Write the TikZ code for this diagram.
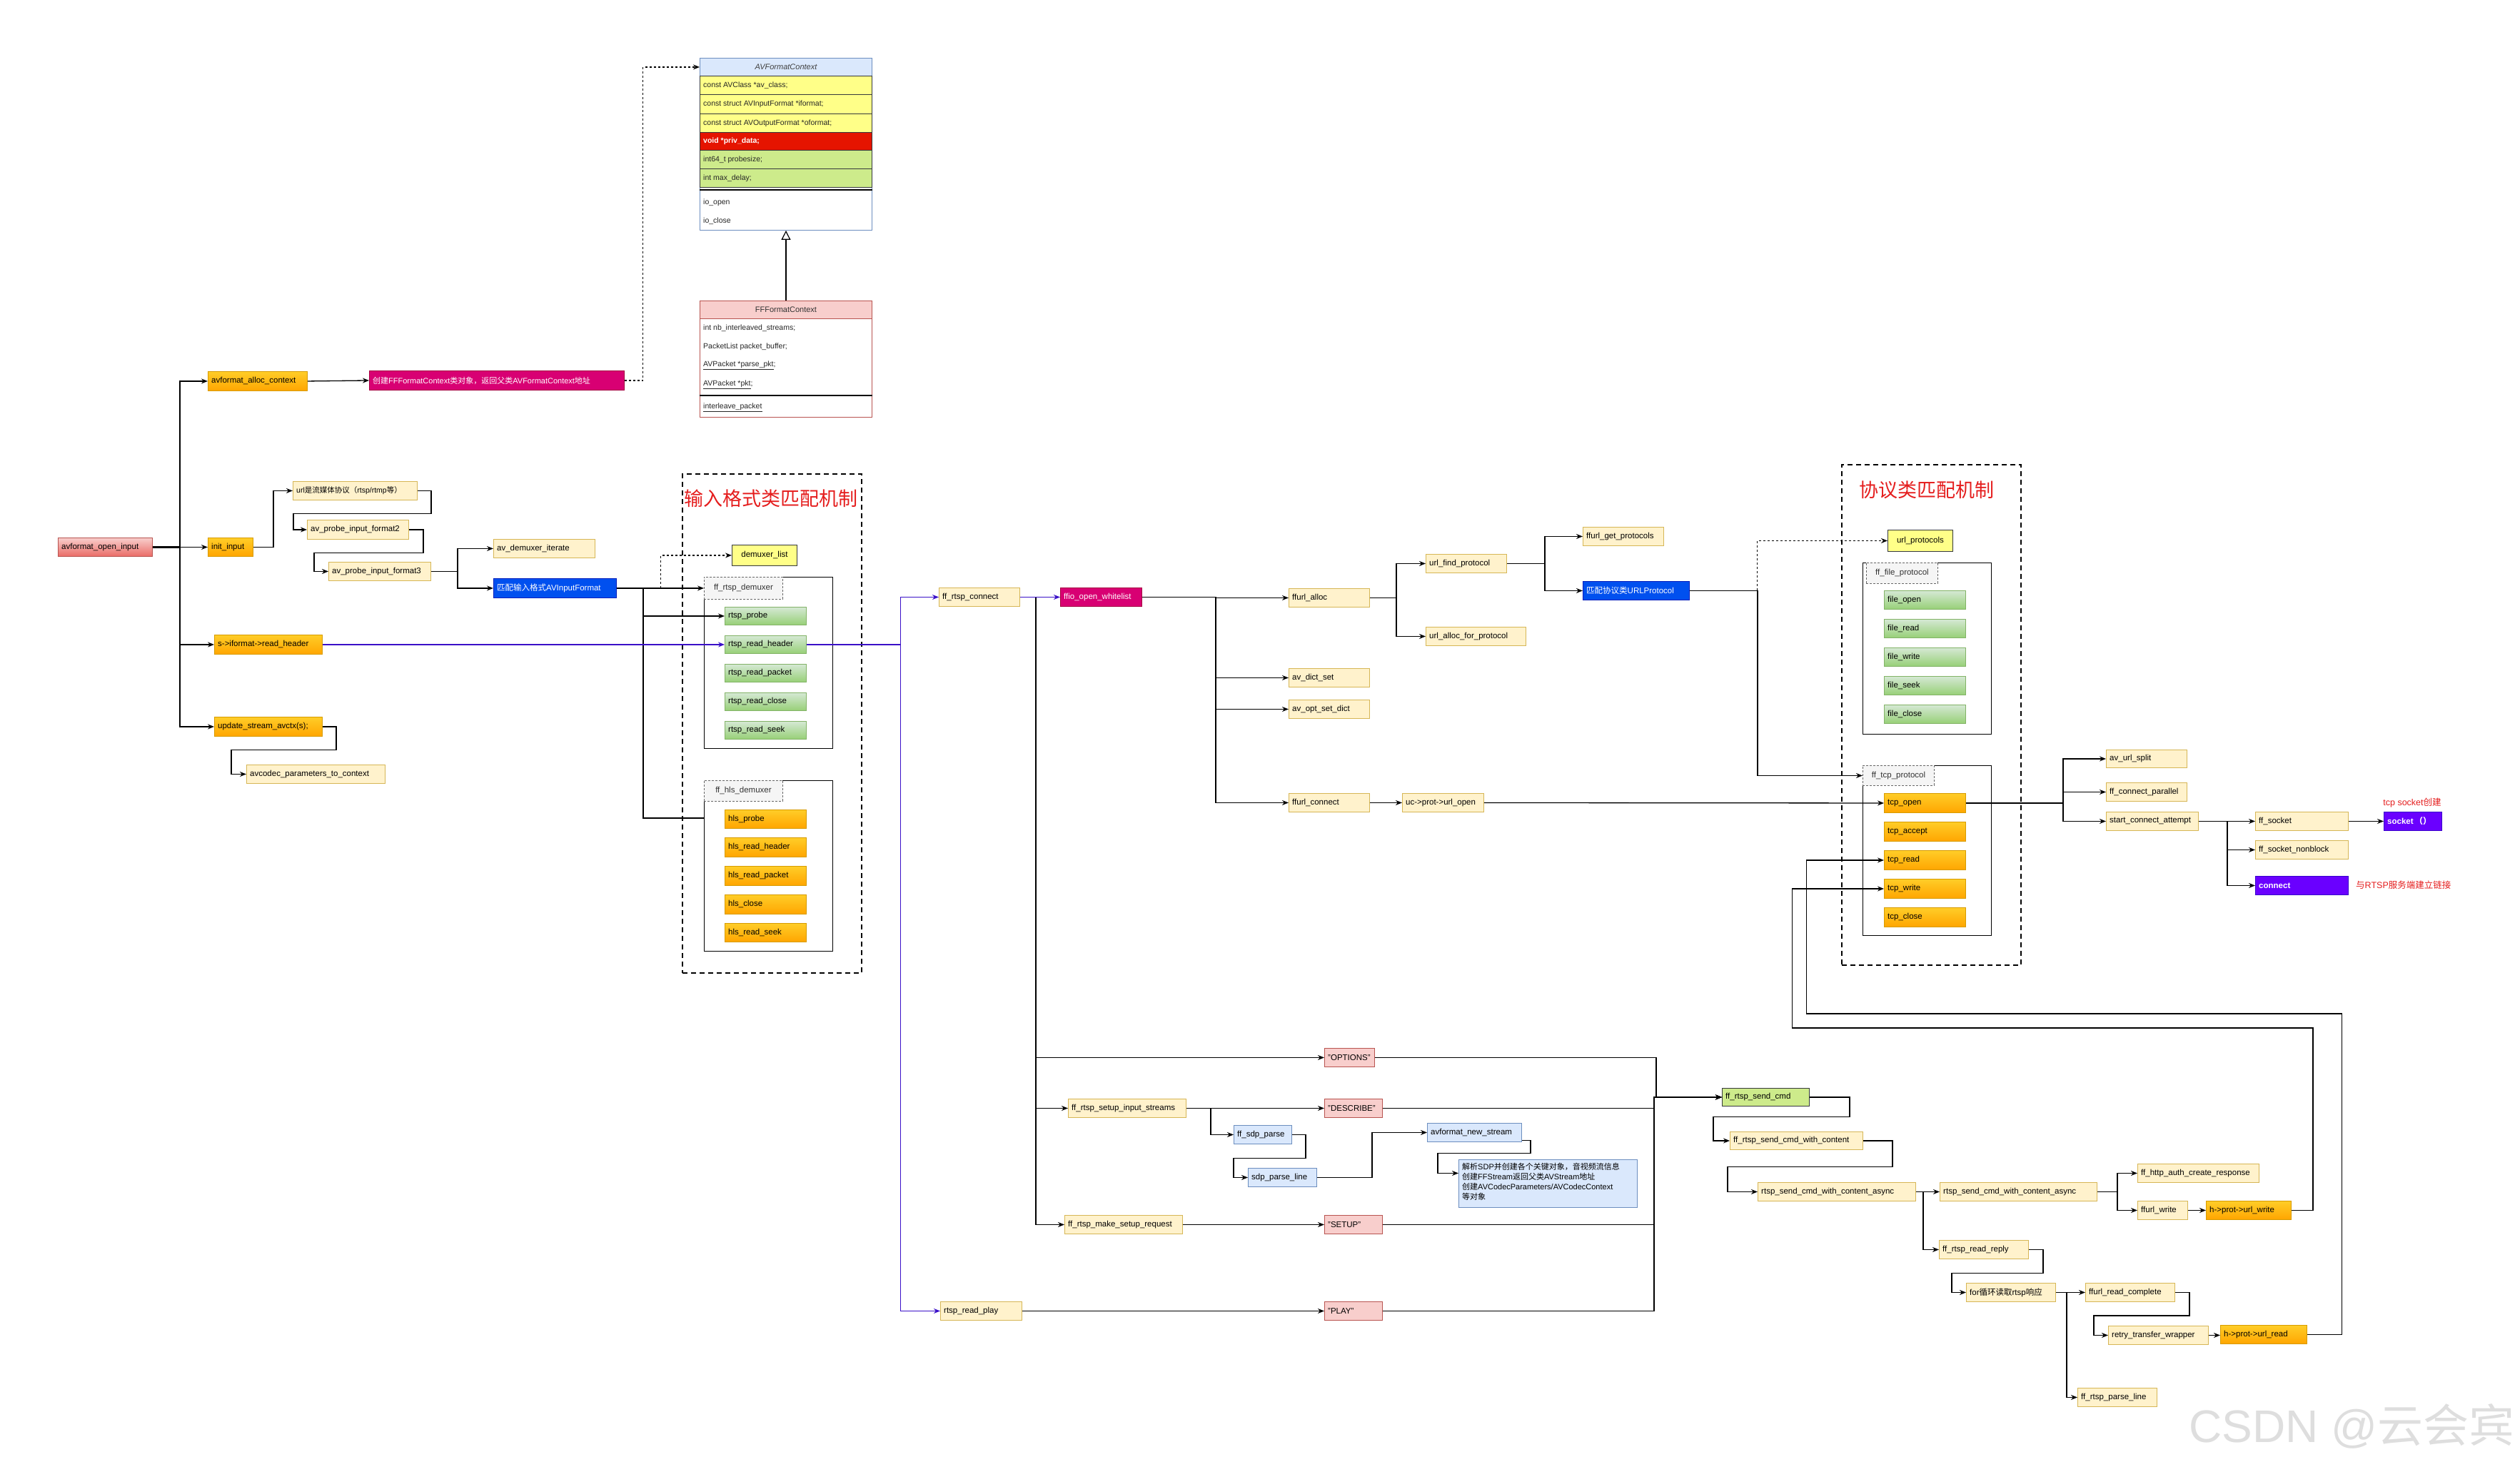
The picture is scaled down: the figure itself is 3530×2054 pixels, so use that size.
\documentclass[tikz,border=0pt]{standalone}
\usepackage{fontspec}
\setmainfont{Liberation Sans}
\newfontfamily\cjk{Noto Sans CJK SC}
\usetikzlibrary{arrows.meta,calc}
\definecolor{ylfill}{HTML}{FFF2CC}\definecolor{ylline}{HTML}{D6B656}
\definecolor{ortop}{HTML}{FFCD28}\definecolor{orbot}{HTML}{FFA500}\definecolor{orline}{HTML}{D79B00}
\definecolor{grtop}{HTML}{D5E8D4}\definecolor{grbot}{HTML}{97D077}\definecolor{grline}{HTML}{82B366}
\definecolor{rdtop}{HTML}{F8CECC}\definecolor{rdbot}{HTML}{EA6B66}\definecolor{rdline}{HTML}{B85450}
\definecolor{mgfill}{HTML}{D80073}\definecolor{mgline}{HTML}{A50040}
\definecolor{blfill}{HTML}{0050EF}\definecolor{blline}{HTML}{001DBC}
\definecolor{ppfill}{HTML}{6A00FF}\definecolor{ppline}{HTML}{3700CC}
\definecolor{lbfill}{HTML}{DAE8FC}\definecolor{lbline}{HTML}{6C8EBF}
\definecolor{pkfill}{HTML}{F8CECC}
\definecolor{lgfill}{HTML}{CDEB8B}\definecolor{dkline}{HTML}{36393D}
\definecolor{yyfill}{HTML}{FFFF88}
\definecolor{rowred}{HTML}{E51400}
\definecolor{gyfill}{HTML}{F5F5F5}\definecolor{gyline}{HTML}{666666}
\definecolor{ttlred}{HTML}{E51E1E}
\definecolor{purpleln}{HTML}{3A10C8}
\newcommand{\zh}[1]{{\cjk #1}}
\tikzset{
 bxbase/.style={rectangle, inner sep=0pt, line width=0.9pt},
 ylbox/.style={bxbase, fill=ylfill, draw=ylline},
 orbox/.style={bxbase, top color=ortop, bottom color=orbot, draw=orline},
 grbox/.style={bxbase, top color=grtop, bottom color=grbot, draw=grline},
 rdbox/.style={bxbase, top color=rdtop, bottom color=rdbot, draw=rdline},
 mgbox/.style={bxbase, fill=mgfill, draw=mgline},
 blbox/.style={bxbase, fill=blfill, draw=blline},
 ppbox/.style={bxbase, fill=ppfill, draw=ppline},
 lbbox/.style={bxbase, fill=lbfill, draw=lbline},
 pkbox/.style={bxbase, fill=pkfill, draw=rdline},
 lgbox/.style={bxbase, fill=lgfill, draw=dkline},
 yybox/.style={bxbase, fill=yyfill, draw=dkline},
 rrbox/.style={bxbase, fill=rowred, draw=dkline},
 gybox/.style={bxbase, fill=gyfill, draw=gyline, dash pattern=on 3pt off 2pt},
 contbox/.style={bxbase, draw=black, line width=1.2pt},
 groupbox/.style={bxbase, draw=black, line width=1.8pt, dash pattern=on 7pt off 5pt},
 txt/.style={inner sep=0pt, font=\fontsize{11.5}{13}\selectfont, text=black},
 wtxt/.style={txt, text=white},
 rowtxt/.style={inner sep=0pt, font=\fontsize{10.5}{12}\selectfont, text=black!85},
 ttl/.style={inner sep=0pt, font={\cjk\fontsize{27}{30}\selectfont}, text=ttlred},
 redlbl/.style={inner sep=0pt, font=\fontsize{12.5}{14}\selectfont, text=ttlred},
 conn/.style={draw=black, line width=1.3pt},
 arr/.style={conn, -{Stealth[length=9pt,width=7pt]}},
 parr/.style={draw=purpleln, line width=1.1pt, -{Stealth[length=9pt,width=7pt]}},
 darr/.style={draw=black, line width=1.1pt, dash pattern=on 3pt off 3pt, -{Stealth[length=9pt,width=7pt]}},
}
% #1 text style, #2 name, #3 box style, #4 x1, #5 y1, #6 x2, #7 y2, #8 text
\newcommand{\bx}[8][txt]{%
 \node[#3, anchor=north west, minimum width={#6-#4}, minimum height={#7-#5}] (#2) at (#4,#5) {};
 \node[#1, anchor=west] at ($(#2.west)+(5,0)$) {#8};}
\newcommand{\bxc}[8][txt]{%
 \node[#3, anchor=north west, minimum width={#6-#4}, minimum height={#7-#5}] (#2) at (#4,#5) {};
 \node[#1] at (#2.center) {#8};}
\newcommand{\zconn}[5]{\draw[arr] (#1.east) -- ++(#3,0) |- ($(#2.west)+(-#5,#4)$) |- (#2.west);}
\begin{document}
\begin{tikzpicture}[x=1pt,y=-1pt]
\useasboundingbox (0,0) rectangle (3530,2054);
\fill[white] (0,0) rectangle (3530,2054);

% ---------- AVFormatContext ----------
\node[bxbase, draw=lbline, fill=white, anchor=north west, minimum width=241, minimum height=241] (avfc) at (980,81) {};
\bxc[txt, text=black!75, font=\fontsize{11}{13}\selectfont\itshape]{avhead}{lbbox}{980}{81}{1221}{106}{AVFormatContext}
\bx[rowtxt]{rowa}{yybox}{980}{106}{1221}{132}{const AVClass *av\_class;}
\bx[rowtxt]{rowb}{yybox}{980}{132}{1221}{159}{const struct AVInputFormat *iformat;}
\bx[rowtxt]{rowc}{yybox}{980}{159}{1221}{185}{const struct AVOutputFormat *oformat;}
\bx[rowtxt, text=white, font=\fontsize{10.5}{12}\selectfont\bfseries]{rowd}{rrbox}{980}{185}{1221}{210}{void *priv\_data;}
\bx[rowtxt]{rowe}{lgbox}{980}{210}{1221}{236}{int64\_t probesize;}
\bx[rowtxt]{rowf}{lgbox}{980}{236}{1221}{262}{int max\_delay;}
\draw[line width=1.3pt, black] ($(avfc.north west)+(0,185)$) -- ($(avfc.north east)+(0,185)$);
\node[rowtxt, anchor=west] (ioopen) at (985,284) {io\_open};
\node[rowtxt, anchor=west] (ioclose) at (985,310) {io\_close};

% ---------- FFFormatContext ----------
\node[bxbase, draw=rdline, fill=white, anchor=north west, minimum width=241, minimum height=163] (ffc) at (980,421) {};
\bxc[txt, text=black!80, font=\fontsize{11}{13}\selectfont]{ffhead}{pkbox}{980}{421}{1221}{446}{FFFormatContext}
\node[rowtxt, anchor=west] (ffa) at (985,459.5) {int nb\_interleaved\_streams;};
\node[rowtxt, anchor=west] (ffb) at (985,486) {PacketList packet\_buffer;};
\node[rowtxt, anchor=west] (ffcc) at (985,512) {\underline{AVPacket *parse\_pkt};};
\node[rowtxt, anchor=west] (ffd) at (985,539) {\underline{AVPacket *pkt};};
\draw[line width=1.3pt, black] ($(ffc.north west)+(0,133)$) -- ($(ffc.north east)+(0,133)$);
\node[rowtxt, anchor=west] (ffe) at (985,571) {\underline{interleave\_packet}};
\draw[line width=1.2pt, -{Triangle[open,length=13pt,width=13pt]}] (ffhead.north) -- (avfc.south);

% ---------- left column ----------
\bx{openinput}{rdbox}{81}{753}{213}{779}{avformat\_open\_input}
\bx{alloc}{orbox}{291}{520}{430}{547}{avformat\_alloc\_context}
\bx[wtxt, font=\fontsize{11}{13}\selectfont]{pinkmsg}{mgbox}{517}{519}{874}{546}{\zh{创建}FFFormatContext\zh{类对象，返回父类}AVFormatContext\zh{地址}}
\bx{initinput}{orbox}{291}{753}{354}{779}{init\_input}
\bx[txt, font=\fontsize{10.5}{12}\selectfont]{urlbox}{ylbox}{410}{674}{584}{700}{url\zh{是流媒体协议（}rtsp/rtmp\zh{等）}}
\bx{probetwo}{ylbox}{430}{728}{572}{755}{av\_probe\_input\_format2}
\bx{probethree}{ylbox}{460}{787}{603}{813}{av\_probe\_input\_format3}
\bx{demiter}{ylbox}{691}{755}{833}{781}{av\_demuxer\_iterate}
\bx[wtxt]{matchfmt}{blbox}{691}{810}{863}{837}{\zh{匹配输入格式}AVInputFormat}
\bx{readheader}{orbox}{300}{889}{451}{916}{s->iformat->read\_header}
\bx{updatectx}{orbox}{300}{1004}{451}{1031}{update\_stream\_avctx(s);}
\bx{codecpar}{ylbox}{345}{1071}{539}{1097}{avcodec\_parameters\_to\_context}

% ---------- input format group ----------
\node[groupbox, anchor=north west, minimum width=251, minimum height=699] (ingroup) at (955,663) {};
\node[ttl] (inttl) at (1080,698) {输入格式类匹配机制};
\bxc[txt, font=\fontsize{11.5}{13}\selectfont]{demuxerlist}{yybox}{1025}{763}{1116}{792}{demuxer\_list}
\node[contbox, anchor=north west, minimum width=180, minimum height=240] (rtspcont) at (986,808) {};
\bxc[txt, text=black!80]{rtsplabel}{gybox}{986}{808}{1096}{839}{ff\_rtsp\_demuxer}
\bx{rprobe}{grbox}{1015}{850}{1129}{875}{rtsp\_probe}
\bx{rreadheader}{grbox}{1015}{890}{1129}{915}{rtsp\_read\_header}
\bx{rreadpacket}{grbox}{1015}{930}{1129}{955}{rtsp\_read\_packet}
\bx{rreadclose}{grbox}{1015}{970}{1129}{995}{rtsp\_read\_close}
\bx{rreadseek}{grbox}{1015}{1010}{1129}{1035}{rtsp\_read\_seek}
\node[contbox, anchor=north west, minimum width=180, minimum height=239] (hlscont) at (986,1093) {};
\bxc[txt, text=black!80]{hlslabel}{gybox}{986}{1093}{1096}{1122}{ff\_hls\_demuxer}
\bx{hprobe}{orbox}{1015}{1134}{1129}{1160}{hls\_probe}
\bx{hreadheader}{orbox}{1015}{1173}{1129}{1200}{hls\_read\_header}
\bx{hreadpacket}{orbox}{1015}{1213}{1129}{1240}{hls\_read\_packet}
\bx{hclose}{orbox}{1015}{1253}{1129}{1280}{hls\_close}
\bx{hreadseek}{orbox}{1015}{1293}{1129}{1319}{hls\_read\_seek}

% ---------- middle ----------
\bx{rtspconnect}{ylbox}{1315}{823}{1428}{849}{ff\_rtsp\_connect}
\bx[wtxt]{ffio}{mgbox}{1485}{823}{1599}{849}{ffio\_open\_whitelist}
\bx{ffurlalloc}{ylbox}{1805}{824}{1918}{850}{ffurl\_alloc}
\bx{dictset}{ylbox}{1805}{936}{1918}{962}{av\_dict\_set}
\bx{optset}{ylbox}{1805}{980}{1918}{1006}{av\_opt\_set\_dict}
\bx{ffurlconnect}{ylbox}{1805}{1111}{1918}{1137}{ffurl\_connect}
\bx{urlopen}{ylbox}{1964}{1111}{2078}{1137}{uc->prot->url\_open}
\bx{findproto}{ylbox}{1997}{776}{2110}{802}{url\_find\_protocol}
\bx{allocproto}{ylbox}{1997}{878}{2137}{904}{url\_alloc\_for\_protocol}
\bx{getprotos}{ylbox}{2217}{738}{2330}{764}{ffurl\_get\_protocols}
\bx[wtxt]{matchproto}{blbox}{2217}{814}{2366}{840}{\zh{匹配协议类}URLProtocol}

% ---------- protocol group ----------
\node[groupbox, anchor=north west, minimum width=251, minimum height=701] (protogroup) at (2579,650) {};
\node[ttl] (prttl) at (2699,686) {协议类匹配机制};
\bxc{urlprotocols}{yybox}{2644}{742}{2735}{772}{url\_protocols}
\node[contbox, anchor=north west, minimum width=180, minimum height=240] (filecont) at (2609,788) {};
\bxc[txt, text=black!80]{filelabel}{gybox}{2614}{788}{2714}{817}{ff\_file\_protocol}
\bx{fopen}{grbox}{2639}{827}{2753}{853}{file\_open}
\bx{fread}{grbox}{2639}{867}{2753}{893}{file\_read}
\bx{fwrite}{grbox}{2639}{907}{2753}{933}{file\_write}
\bx{fseek}{grbox}{2639}{947}{2753}{973}{file\_seek}
\bx{fclose}{grbox}{2639}{987}{2753}{1013}{file\_close}
\node[contbox, anchor=north west, minimum width=180, minimum height=238] (tcpcont) at (2609,1072) {};
\bxc[txt, text=black!80]{tcplabel}{gybox}{2609}{1072}{2709}{1100}{ff\_tcp\_protocol}
\bx{tcpopen}{orbox}{2639}{1111}{2753}{1138}{tcp\_open}
\bx{tcpaccept}{orbox}{2639}{1151}{2753}{1178}{tcp\_accept}
\bx{tcpread}{orbox}{2639}{1191}{2753}{1218}{tcp\_read}
\bx{tcpwrite}{orbox}{2639}{1231}{2753}{1258}{tcp\_write}
\bx{tcpclose}{orbox}{2639}{1271}{2753}{1298}{tcp\_close}

% ---------- right ----------
\bx{avurlsplit}{ylbox}{2950}{1050}{3063}{1075}{av\_url\_split}
\bx{connparallel}{ylbox}{2950}{1096}{3063}{1122}{ff\_connect\_parallel}
\bx{startconn}{ylbox}{2950}{1137}{3079}{1163}{start\_connect\_attempt}
\bx{ffsocket}{ylbox}{3159}{1137}{3289}{1163}{ff\_socket}
\bx{nonblock}{ylbox}{3159}{1177}{3289}{1203}{ff\_socket\_nonblock}
\bx[wtxt, font=\fontsize{11.5}{13}\selectfont\bfseries]{connectbox}{ppbox}{3159}{1227}{3289}{1253}{connect}
\bx[wtxt, font=\fontsize{11.5}{13}\selectfont\bfseries]{socketbox}{ppbox}{3339}{1137}{3420}{1163}{socket\,\zh{（）}}
\node[redlbl] (lblsock) at (3379,1125) {tcp socket\zh{创建}};
\node[redlbl, anchor=west] (lblconn) at (3300,1240) {\zh{与}RTSP\zh{服务端建立链接}};

% ---------- bottom ----------
\bx{options}{pkbox}{1855}{1468}{1925}{1494}{"OPTIONS"}
\bx{setupinput}{ylbox}{1496}{1539}{1661}{1565}{ff\_rtsp\_setup\_input\_streams}
\bx{describe}{pkbox}{1855}{1539}{1936}{1565}{"DESCRIBE"}
\bx{sdpparse}{lbbox}{1728}{1576}{1809}{1602}{ff\_sdp\_parse}
\bx{sdpline}{lbbox}{1748}{1636}{1844}{1662}{sdp\_parse\_line}
\bx{newstream}{lbbox}{1999}{1573}{2131}{1599}{avformat\_new\_stream}
\node[lbbox, anchor=north west, minimum width=250, minimum height=67] (note) at (2043,1624) {};
\node[txt, font=\fontsize{11}{14}\selectfont, anchor=north west, align=left] (notetxt) at ($(note.north west)+(5,5)$)
 {\zh{解析}SDP\zh{并创建各个关键对象，音视频流信息}\\\zh{创建}FFStream\zh{返回父类}AVStream\zh{地址}\\\zh{创建}AVCodecParameters/AVCodecContext\\\zh{等对象}};
\bx{setupreq}{ylbox}{1491}{1702}{1656}{1728}{ff\_rtsp\_make\_setup\_request}
\bx{setup}{pkbox}{1855}{1702}{1936}{1728}{"SETUP"}
\bx{readplay}{ylbox}{1317}{1823}{1431}{1849}{rtsp\_read\_play}
\bx{play}{pkbox}{1855}{1823}{1936}{1849}{"PLAY"}
\bx{sendcmd}{lgbox}{2412}{1524}{2534}{1549}{ff\_rtsp\_send\_cmd}
\bx{withcontent}{ylbox}{2423}{1585}{2609}{1610}{ff\_rtsp\_send\_cmd\_with\_content}
\bx{asyncone}{ylbox}{2462}{1656}{2683}{1682}{rtsp\_send\_cmd\_with\_content\_async}
\bx{asynctwo}{ylbox}{2717}{1656}{2937}{1682}{rtsp\_send\_cmd\_with\_content\_async}
\bx{httpauth}{ylbox}{2994}{1630}{3164}{1656}{ff\_http\_auth\_create\_response}
\bx{ffurlwrite}{ylbox}{2994}{1682}{3064}{1708}{ffurl\_write}
\bx{urlwrite}{orbox}{3090}{1682}{3209}{1708}{h->prot->url\_write}
\bx{readreply}{ylbox}{2716}{1737}{2841}{1763}{ff\_rtsp\_read\_reply}
\bx{forloop}{ylbox}{2754}{1797}{2879}{1823}{for\zh{循环读取}rtsp\zh{响应}}
\bx{readcomplete}{ylbox}{2921}{1797}{3046}{1823}{ffurl\_read\_complete}
\bx{retry}{ylbox}{2953}{1857}{3093}{1883}{retry\_transfer\_wrapper}
\bx{urlread}{orbox}{3110}{1856}{3231}{1882}{h->prot->url\_read}
\bx{parseline}{ylbox}{2910}{1944}{3021}{1970}{ff\_rtsp\_parse\_line}

\node[inner sep=0pt, anchor=west, text=black!13, font=\fontsize{64}{70}\selectfont] (wm) at (3066,1998) {CSDN @\zh{云会宾}};

% ---------- connectors: left ----------
\draw[conn, line width=2.6pt] (openinput.east) -- ++(38,0);
\draw[arr] (openinput.east) -- ++(38,0) |- (alloc.west);
\draw[arr] (openinput.east) -- ++(38,0) |- (initinput.west);
\draw[arr] (openinput.east) -- ++(38,0) |- (readheader.west);
\draw[arr] (openinput.east) -- ++(38,0) |- (updatectx.west);
\draw[arr] (alloc.east) -- (pinkmsg.west);
\draw[darr] (pinkmsg.east) -- ++(26,0) |- (avhead.west);
\draw[arr] (initinput.east) -- ++(28,0) |- (urlbox.west);
\zconn{urlbox}{probetwo}{19}{-22.5}{19}
\zconn{probetwo}{probethree}{20}{-26}{20}
\zconn{updatectx}{codecpar}{19}{-34}{21}
\draw[arr] (probethree.east) -- ++(37,0) |- (demiter.west);
\draw[arr] (probethree.east) -- ++(37,0) |- (matchfmt.west);
\draw[arr] (matchfmt.east) -- (rtsplabel.west);
\draw[arr] (matchfmt.east) -- ++(37,0) |- (rprobe.west);
\draw[conn] (matchfmt.east) -- ++(37,0) |- ($(hlscont.north west)+(0,53)$);
\draw[darr] ($(matchfmt.east)+(62,0)$) |- (demuxerlist.west);
\draw[parr] (readheader.east) -- (rreadheader.west);
\draw[parr] (rreadheader.east) -- ++(132,0) |- (rtspconnect.west);
\draw[parr] (rreadheader.east) -- ++(132,0) |- (readplay.west);

% ---------- connectors: middle ----------
\draw[arr] (rtspconnect.east) -- ++(22,0) |- (options.west);
\draw[arr] (rtspconnect.east) -- ++(22,0) |- (setupinput.west);
\draw[arr] (rtspconnect.east) -- ++(22,0) |- (setupreq.west);
\draw[parr] (rtspconnect.east) -- (ffio.west);
\draw[arr] (ffio.east) -- ++(103,0) |- (ffurlalloc.west);
\draw[arr] (ffio.east) -- ++(103,0) |- (dictset.west);
\draw[arr] (ffio.east) -- ++(103,0) |- (optset.west);
\draw[arr] (ffio.east) -- ++(103,0) |- (ffurlconnect.west);
\draw[arr] (ffurlalloc.east) -- ++(37,0) |- (findproto.west);
\draw[arr] (ffurlalloc.east) -- ++(37,0) |- (allocproto.west);
\draw[arr] (findproto.east) -- ++(53,0) |- (getprotos.west);
\draw[arr] (findproto.east) -- ++(53,0) |- (matchproto.west);
\draw[arr] (ffurlconnect.east) -- (urlopen.west);
\draw[arr] (urlopen.east) -- (tcpopen.west);
\draw[arr] (matchproto.east) -- ++(95,0) |- (tcplabel.west);
\draw[darr] ($(matchproto.east)+(95,0)$) |- (urlprotocols.west);

% ---------- connectors: right ----------
\draw[arr] (tcpopen.east) -- ++(136,0) |- (avurlsplit.west);
\draw[arr] (tcpopen.east) -- ++(136,0) |- (connparallel.west);
\draw[arr] (tcpopen.east) -- ++(136,0) |- (startconn.west);
\draw[arr] (startconn.east) -- ++(40,0) |- (ffsocket.west);
\draw[arr] (startconn.east) -- ++(40,0) |- (nonblock.west);
\draw[arr] (startconn.east) -- ++(40,0) |- (connectbox.west);
\draw[arr] (ffsocket.east) -- (socketbox.west);

% ---------- connectors: bottom ----------
\draw[arr] (options.east) -- ++(394,0) |- (sendcmd.west);
\draw[arr] (describe.east) -- ++(380,0) |- (sendcmd.west);
\draw[arr] (setup.east) -- ++(380,0) |- (sendcmd.west);
\draw[arr] (play.east) -- ++(380,0) |- (sendcmd.west);
\draw[arr] (setupinput.east) -- (describe.west);
\draw[arr] (setupinput.east) -- ++(34,0) |- (sdpparse.west);
\zconn{sdpparse}{sdpline}{19}{-27}{20}
\draw[arr] (sdpline.east) -- ++(77,0) |- (newstream.west);
\draw[arr] ($(newstream.east)+(0,11)$) -- ++(12,0) |- ($(note.west)+(-29,-42.5)$) |- ($(note.west)+(0,-14.5)$);
\draw[arr] (setupreq.east) -- (setup.west);
\draw[arr] (readplay.east) -- (play.west);
\zconn{sendcmd}{withcontent}{56}{-33.5}{23}
\zconn{withcontent}{asyncone}{41}{-35}{42}
\draw[arr] (asyncone.east) -- (asynctwo.west);
\draw[arr] (asyncone.east) -- ++(10,0) |- (readreply.west);
\draw[arr] (asynctwo.east) -- ++(28,0) |- (httpauth.west);
\draw[arr] (asynctwo.east) -- ++(28,0) |- (ffurlwrite.west);
\draw[arr] (ffurlwrite.east) -- (urlwrite.west);
\zconn{readreply}{forloop}{20}{-27}{20}
\draw[arr] (forloop.east) -- (readcomplete.west);
\draw[arr] (forloop.east) -- ++(15,0) |- (parseline.west);
\zconn{readcomplete}{retry}{20}{-27.5}{20}
\draw[arr] (retry.east) -- (retry.east -| urlread.west);
\coordinate (wrturn) at (3240,1440);
\coordinate (rdturn) at (3280.5,1420);
\draw[arr] (urlwrite.east) -| (wrturn) -| ($(tcpwrite.west)+(-128.5,0)$) -- (tcpwrite.west);
\draw[arr] (urlread.east) -| (rdturn) -| ($(tcpread.west)+(-108.5,0)$) -- (tcpread.west);
\end{tikzpicture}
\end{document}
